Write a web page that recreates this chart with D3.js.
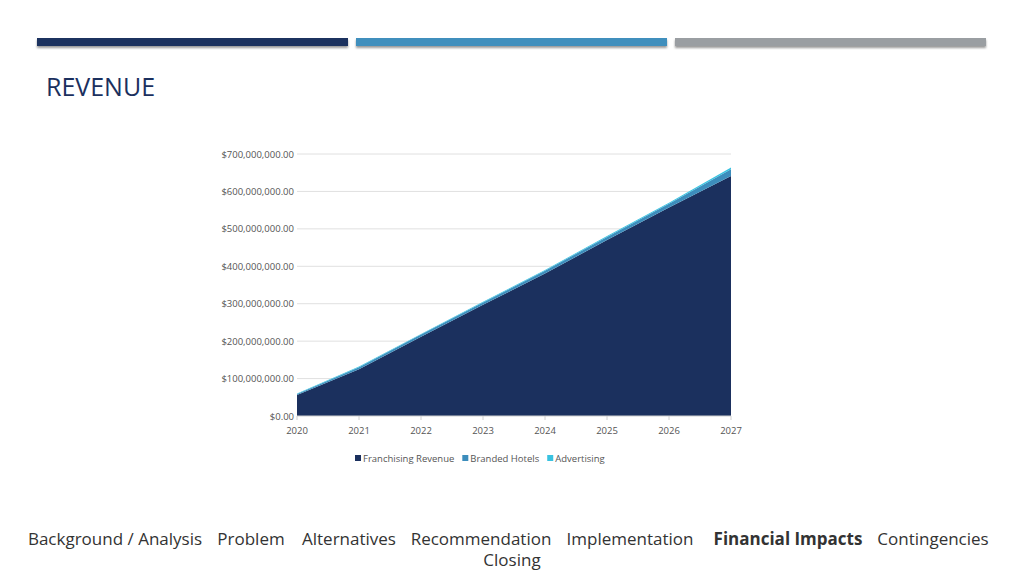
<!DOCTYPE html><html><head><meta charset="utf-8">
<script src="https://cdn.jsdelivr.net/npm/d3@7/dist/d3.min.js"></script>
<style>body{margin:0;background:#fff;font-family:"Open Sans","Noto Sans",sans-serif}</style></head><body>
<svg id="c" width="1024" height="575"></svg>
<script>
const years=[2020,2021,2022,2023,2024,2025,2026,2027];
const franchising=[56e6,125e6,212e6,297e6,381e6,470e6,557e6,641e6];
const branded=[3e6,5e6,5.5e6,6e6,7e6,8.5e6,10e6,18e6];
const advertising=[1e6,2e6,1.5e6,2e6,2e6,2.5e6,3e6,5e6];
const yTicks=[0,1e8,2e8,3e8,4e8,5e8,6e8,7e8];
const seriesNames=["Franchising Revenue","Branded Hotels","Advertising"];
const colors=["#1b305e","#3c8dbc","#39c2e0"];
const navItems=["Background / Analysis","Problem","Alternatives","Recommendation","Implementation","Financial Impacts","Contingencies"];

const svg=d3.select("#c");
const defs=svg.append("defs");
const f=defs.append("filter").attr("id","sh").attr("x","-5%").attr("y","-50%").attr("width","110%").attr("height","250%");
f.append("feDropShadow").attr("dx",0).attr("dy",2).attr("stdDeviation",1.2).attr("flood-opacity",0.4);
[["#1b305e",37],["#3f8fbd",356],["#9a9ea2",675]].forEach(([c,x])=>svg.append("rect").attr("x",x).attr("y",38).attr("width",311).attr("height",8).attr("fill",c).attr("filter","url(#sh)"));
svg.append("text").attr("x",46).attr("y",96).attr("fill","#1b305e").attr("font-size",25).text("REVENUE");

const x=d3.scaleLinear().domain([2020,2027]).range([297,731]);
const y=d3.scaleLinear().domain([0,7e8]).range([416,154]);
const g=svg.append("g");
yTicks.forEach(t=>{if(t>0)g.append("line").attr("x1",297).attr("x2",731).attr("y1",y(t)).attr("y2",y(t)).attr("stroke","#e0e0e0");});
const data=years.map((yr,i)=>({yr,a:franchising[i],b:branded[i],c:advertising[i]}));
const stack=d3.stack().keys(["a","b","c"])(data);
const area=d3.area().x(d=>x(d.data.yr)).y0(d=>y(d[0])).y1(d=>y(d[1]));
stack.forEach((s,i)=>g.append("path").attr("d",area(s)).attr("fill",colors[i]));
g.append("line").attr("x1",297).attr("x2",731).attr("y1",416).attr("y2",416).attr("stroke","#d0d0d0");
const fmt=d3.format("$,.2f");
yTicks.forEach(t=>g.append("text").attr("x",294).attr("y",y(t)+3.5).attr("text-anchor","end").attr("font-size",9.5).attr("fill","#555").text(fmt(t)));
years.forEach(yr=>{g.append("line").attr("x1",x(yr)).attr("x2",x(yr)).attr("y1",416).attr("y2",420).attr("stroke","#d0d0d0");
g.append("text").attr("x",x(yr)).attr("y",434).attr("text-anchor","middle").attr("font-size",9.5).attr("fill","#555").text(yr);});
let lx=355;
seriesNames.forEach((n,i)=>{g.append("rect").attr("x",lx).attr("y",455).attr("width",6).attr("height",6).attr("fill",colors[i]);
const t=g.append("text").attr("x",lx+8).attr("y",462).attr("font-size",9.5).attr("fill","#555").text(n);
lx+=t.node().getComputedTextLength()+16;});

const nx=[115,251,349,481,630,788,933];
navItems.forEach((n,i)=>svg.append("text").attr("x",nx[i]).attr("y",545).attr("text-anchor","middle").attr("font-size",17).attr("fill","#333").attr("font-weight",i==5?"bold":"normal").text(n));
svg.append("text").attr("x",512).attr("y",566).attr("text-anchor","middle").attr("font-size",17).attr("fill","#333").text("Closing");
</script></body></html>
